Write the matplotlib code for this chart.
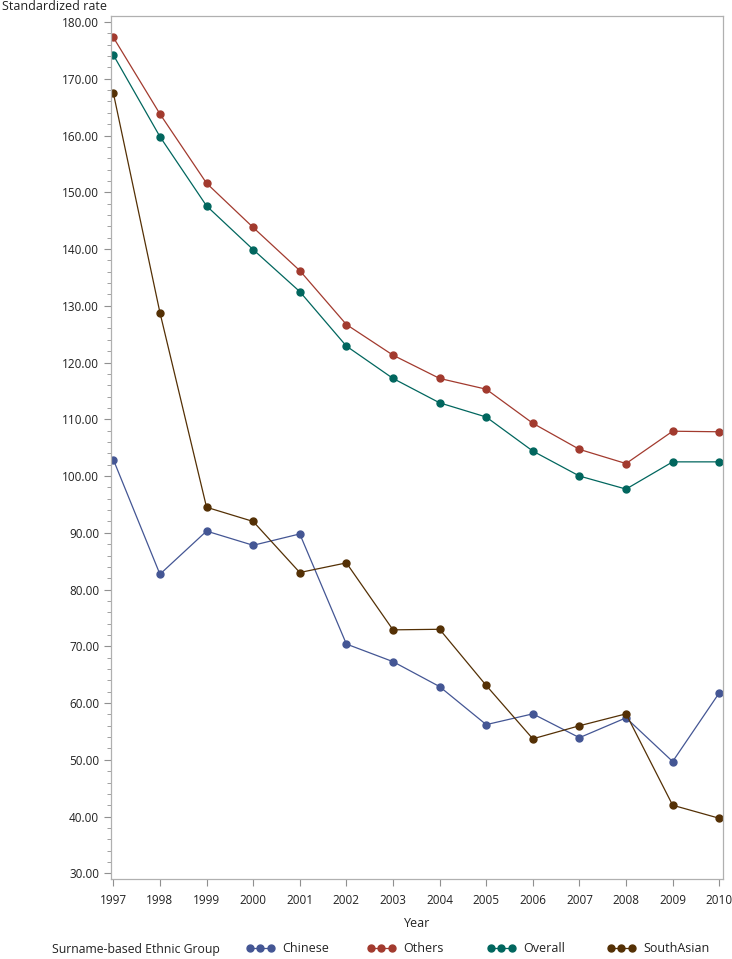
import matplotlib
matplotlib.use("Agg")
import matplotlib.pyplot as plt
from matplotlib.ticker import MultipleLocator, FormatStrFormatter
from matplotlib.lines import Line2D

years = list(range(1997, 2011))
chinese = [102.9, 82.7, 90.3, 87.8, 89.8, 70.4, 67.3, 62.9, 56.2, 58.1, 53.9, 57.4, 49.7, 61.8]
others = [177.3, 163.8, 151.6, 143.8, 136.2, 126.7, 121.3, 117.2, 115.3, 109.3, 104.7, 102.2, 107.9, 107.8]
overall = [174.2, 159.8, 147.6, 139.9, 132.5, 122.9, 117.2, 112.9, 110.4, 104.4, 100.0, 97.7, 102.5, 102.5]
southasian = [167.5, 128.8, 94.5, 92.0, 83.0, 84.7, 72.9, 73.0, 63.1, 53.7, 56.0, 58.1, 42.0, 39.7]

groups = ["Chinese", "Others", "Overall", "SouthAsian"]
colors = ["#445694", "#A23A2E", "#01665E", "#543005"]
legend_x = [246, 367, 487, 607]  # pixel position of each legend entry

plt.rcParams['font.family'] = ['Open Sans', 'DejaVu Sans']


def main():
    fig = plt.figure(figsize=(7.32, 9.59), dpi=100)
    ax = fig.add_axes([111 / 732, 1 - 879 / 959, 612 / 732, 863 / 959])

    handles = []
    for name, vals, c in zip(groups, [chinese, others, overall, southasian], colors):
        ax.plot(years, vals, color=c, lw=0.9, marker='o', ms=5.0, mec=c, mfc=c)
        handles.append(Line2D([], [], color=c, lw=0.9, marker='o', ms=5.0, label=name))

    ax.set_xlim(1996.95, 2010.08)
    ax.set_ylim(29.0, 181.06)
    ax.set_xticks(years)
    ax.yaxis.set_major_locator(MultipleLocator(10))
    ax.yaxis.set_minor_locator(MultipleLocator(2))
    ax.yaxis.set_major_formatter(FormatStrFormatter('%.2f'))

    for s in ax.spines.values():
        s.set_color('#b0b0b0')
        s.set_linewidth(0.9)
    ax.tick_params(axis='both', which='major', color='#909090', length=5,
                   labelsize=8.5, labelcolor='#222222')
    ax.tick_params(axis='y', which='minor', color='#909090', length=3)
    ax.tick_params(axis='x', pad=6)

    ax.set_xlabel('Year', fontsize=9, color='#222222', labelpad=7)
    fig.text(2 / 732, 1 - 7 / 959, 'Standardized rate', fontsize=9,
             color='#222222', va='center', ha='left')

    legend_y = 1 - 949 / 959
    fig.text(52 / 732, legend_y, 'Surname-based Ethnic Group', fontsize=8.8,
             color='#222222', va='center', ha='left')
    for h, x in zip(handles, legend_x):
        fig.legend(handles=[h], loc='center left', bbox_to_anchor=(x / 732, legend_y),
                   frameon=False, numpoints=3, handlelength=2.28,
                   handletextpad=0.6, fontsize=9, borderaxespad=0, borderpad=0,
                   labelcolor='#222222')

    fig.savefig('out.png', dpi=100)


if __name__ == "__main__":
    main()
